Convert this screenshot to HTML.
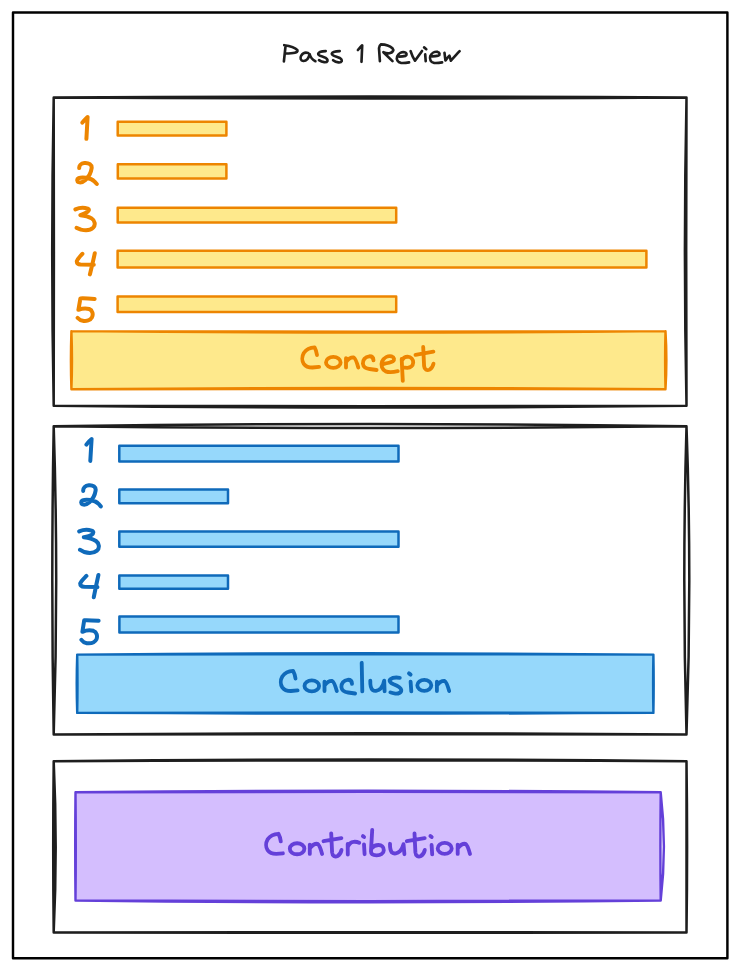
<!DOCTYPE html>
<html>
<head>
<meta charset="utf-8">
<style>
html,body{margin:0;padding:0;background:#fff;width:740px;height:971px;overflow:hidden;}
svg{display:block;}
</style>
</head>
<body>
<svg width="740" height="971" viewBox="0 0 740 971">
<rect x="0" y="0" width="740" height="971" fill="#ffffff"/>
<rect x="13" y="12.5" width="714.4" height="945.8" fill="none" stroke="#000000" stroke-width="2.45" stroke-linejoin="round"/>
<path d="M53.70,97.50 Q370.10,95.50 686.50,97.50 M53.70,97.50 Q370.10,99.50 686.50,97.50 M686.50,97.50 Q683.30,251.60 686.50,405.70 M686.50,97.50 Q685.90,251.60 686.50,405.70 M53.70,405.70 Q370.10,406.90 686.50,405.70 M53.70,405.70 Q370.10,409.30 686.50,405.70 M53.70,97.50 Q50.70,251.60 53.70,405.70 M53.70,97.50 Q54.10,251.60 53.70,405.70" fill="none" stroke="#1e1e1e" stroke-width="2.5" stroke-linecap="round" stroke-linejoin="round"/>
<path d="M53.70,426.20 Q370.10,421.80 686.50,426.20 M53.70,426.20 Q370.10,429.80 686.50,426.20 M686.50,426.20 Q682.10,580.35 686.50,734.50 M686.50,426.20 Q692.10,580.35 686.50,734.50 M53.70,734.50 Q370.10,732.10 686.50,734.50 M53.70,734.50 Q370.10,733.90 686.50,734.50 M53.70,426.20 Q50.90,580.35 53.70,734.50 M53.70,426.20 Q58.70,580.35 53.70,734.50" fill="none" stroke="#1e1e1e" stroke-width="2.5" stroke-linecap="round" stroke-linejoin="round"/>
<path d="M53.70,761.30 Q370.10,757.70 686.50,761.30 M53.70,761.30 Q370.10,759.50 686.50,761.30 M686.50,761.30 Q686.50,846.90 686.50,932.50 M686.50,761.30 Q687.70,846.90 686.50,932.50 M53.70,932.50 Q370.10,931.90 686.50,932.50 M53.70,932.50 Q370.10,933.10 686.50,932.50 M53.70,761.30 Q52.70,846.90 53.70,932.50 M53.70,761.30 Q57.70,846.90 53.70,932.50" fill="none" stroke="#1e1e1e" stroke-width="2.5" stroke-linecap="round" stroke-linejoin="round"/>
<rect x="117.7" y="121.7" width="108.70" height="13.80" fill="#fee98c" stroke="#ed8500" stroke-width="2.5" stroke-linejoin="round"/>
<rect x="117.8" y="164.3" width="108.60" height="14.20" fill="#fee98c" stroke="#ed8500" stroke-width="2.5" stroke-linejoin="round"/>
<rect x="117.7" y="207.7" width="278.50" height="14.90" fill="#fee98c" stroke="#ed8500" stroke-width="2.5" stroke-linejoin="round"/>
<rect x="117.6" y="250.8" width="528.80" height="16.60" fill="#fee98c" stroke="#ed8500" stroke-width="2.5" stroke-linejoin="round"/>
<rect x="117.6" y="296.6" width="278.60" height="15.30" fill="#fee98c" stroke="#ed8500" stroke-width="2.5" stroke-linejoin="round"/>
<path d="M71.4,331.1 L665.5,331.1 L665.5,389.3 L71.4,389.3 Z" fill="#fee98c" stroke="none"/>
<path d="M71.40,331.10 Q368.45,332.10 665.50,331.10 M71.40,331.10 Q368.45,333.90 665.50,331.10 M665.50,331.10 Q664.70,360.20 665.50,389.30 M665.50,331.10 Q667.30,360.20 665.50,389.30 M71.40,389.30 Q368.45,388.70 665.50,389.30 M71.40,389.30 Q368.45,386.70 665.50,389.30 M71.40,331.10 Q70.40,360.20 71.40,389.30 M71.40,331.10 Q72.60,360.20 71.40,389.30" fill="none" stroke="#ed8500" stroke-width="2.4" stroke-linecap="round" stroke-linejoin="round"/>
<rect x="119.3" y="445.8" width="279.20" height="15.60" fill="#96d8fb" stroke="#0f6aba" stroke-width="2.5" stroke-linejoin="round"/>
<rect x="119.3" y="489.6" width="108.70" height="13.70" fill="#96d8fb" stroke="#0f6aba" stroke-width="2.5" stroke-linejoin="round"/>
<rect x="119.3" y="531.4" width="279.20" height="15.30" fill="#96d8fb" stroke="#0f6aba" stroke-width="2.5" stroke-linejoin="round"/>
<rect x="119.3" y="575.6" width="108.70" height="13.20" fill="#96d8fb" stroke="#0f6aba" stroke-width="2.5" stroke-linejoin="round"/>
<rect x="119.4" y="616.5" width="279.10" height="15.90" fill="#96d8fb" stroke="#0f6aba" stroke-width="2.5" stroke-linejoin="round"/>
<path d="M77.2,654.6 L653.4,654.6 L653.4,712.9 L77.2,712.9 Z" fill="#96d8fb" stroke="none"/>
<path d="M77.20,654.60 Q365.30,652.00 653.40,654.60 M77.20,654.60 Q365.30,653.80 653.40,654.60 M653.40,654.60 Q652.80,683.75 653.40,712.90 M653.40,654.60 Q654.00,683.75 653.40,712.90 M77.20,712.90 Q365.30,711.90 653.40,712.90 M77.20,712.90 Q365.30,714.30 653.40,712.90 M77.20,654.60 Q76.20,683.75 77.20,712.90 M77.20,654.60 Q77.80,683.75 77.20,712.90" fill="none" stroke="#0f6aba" stroke-width="2.4" stroke-linecap="round" stroke-linejoin="round"/>
<path d="M75.5,792.3 L660.7,792.3 L660.7,900.5 L75.5,900.5 Z" fill="#d4befe" stroke="none"/>
<path d="M75.50,792.30 Q368.10,789.10 660.70,792.30 M75.50,792.30 Q368.10,791.10 660.70,792.30 M660.70,792.30 Q660.10,846.40 660.70,900.50 M660.70,792.30 Q667.10,846.40 660.70,900.50 M75.50,900.50 Q368.10,901.70 660.70,900.50 M75.50,900.50 Q368.10,904.10 660.70,900.50 M75.50,792.30 Q74.90,846.40 75.50,900.50 M75.50,792.30 Q76.10,846.40 75.50,900.50" fill="none" stroke="#6440d9" stroke-width="2.4" stroke-linecap="round" stroke-linejoin="round"/>
<path d="M285.5,46.4 C285.0,51.5 284.4,56.5 283.9,61.4 M284.2,45.2 C289.0,45.8 294.8,47.2 297.4,50.2 C298.4,52.6 293.6,53.4 285.4,53.5 M308.0,53.0 C305.5,52.2 302.6,53.4 301.2,55.6 C299.8,58 300.6,60.8 303.4,61.0 C306.2,61.1 308.6,58.6 309.6,54.0 M309.6,54.0 C310.6,57.5 312.6,60 315.4,61.2 M325.7,51.1 C322.5,51.2 318.6,51.8 318.2,53.8 C318.0,55.6 321.2,56.2 323.4,56.9 C326.2,57.8 328.0,59.2 327.4,61.1 C326.6,62.8 322.4,62.6 319.0,60.2 M339.7,51.1 C336.5,51.2 332.4,51.6 331.8,53.6 C331.6,55.5 334.8,56.2 337.2,56.9 C340.2,57.8 342.3,59.2 341.7,61.3 C340.9,63.0 336.5,63.0 333.1,60.2 M357.9,50.0 C359.4,48.2 360.8,46.6 362.2,45.3 L361.5,61.8 M379.0,48.3 L379.9,61.2 M379.0,48.3 C379.3,46.5 379.9,45 380.9,44.4 C384.5,44.5 389.8,45.8 392.4,48.2 C394.2,50.2 392.8,52.6 389.4,53.3 C387.0,53.6 385.0,53.0 383.4,52.2 L392.5,61.1 M399.3,56.6 C401.3,56.6 403.6,56.4 405.4,55.9 C407.2,55.2 407.0,53.0 404.6,52.3 C401.8,51.6 398.6,53.2 397.2,56.2 C396.0,59.6 397.8,62.6 401.0,62.9 C403.8,63.1 406.6,62.8 409.1,62.4 M410.6,51.2 C411.6,54.4 413.2,58.2 415.0,60.7 C417.4,57.5 419.8,54.0 422.0,51.0 M424.1,47.4 L426.3,49.2 M425.2,54.4 L425.7,61.2 M432.0,56.3 C434.0,56.3 436.4,56.1 438.3,55.6 C440.2,54.9 440.0,52.6 437.6,51.9 C434.8,51.3 431.6,53.0 430.3,56.0 C429.2,59.4 430.9,62.5 434.1,62.9 C436.9,63.1 439.6,62.8 442.1,62.4 M444.5,52.9 C444.8,55.5 445.1,58.2 445.5,60.5 C446.6,59.0 447.8,57.2 449.4,55.6 C449.9,57.4 450.3,59.0 450.9,60.7 C453.8,57.5 456.8,54.2 459.6,51.2" fill="none" stroke="#1e1e1e" stroke-width="2.65" stroke-linecap="round" stroke-linejoin="round"/>
<path d="M317.0,355.0 C316.6,352.2 315.7,349.4 314.6,347.4 C310.8,347.6 306.2,349.6 303.8,353.0 C301.8,356.4 301.9,361.0 303.8,363.8 C305.8,366.6 309.2,367.5 312.4,367.5 L319.1,366.9 M326.00,362.40 A7.30,5.50 0 1,0 340.60,362.40 A7.30,5.50 0 1,0 326.00,362.40 M346.0,358.2 L346.0,367.5 M346.0,362.0 C347.8,359.6 351.2,357.2 353.6,357.4 C355.6,358.4 357.2,363.6 358.3,367.6 M373.5,360.4 C373.4,357.8 371.8,356.2 369.2,356.3 C365.2,356.6 362.6,360.0 362.9,363.6 C363.3,367.0 366.2,368.6 369.6,369.0 L376.6,370.0 M383.2,364.0 C386.5,363.4 390.5,362.6 392.8,361.4 C394.8,360.0 394.4,357.2 391.6,356.4 C388.0,355.6 384.0,357.6 382.0,361.6 C380.6,365.2 382.0,369.6 385.6,371.4 C389.4,372.8 394.4,372.0 397.8,371.2 M401.7,359.0 C402.0,366 402.4,374 402.8,380.8 M401.9,360.4 C403.0,358.0 405.0,356.6 407.6,356.6 C411.0,356.8 413.4,359.4 413.2,362.6 C413.0,365.6 410.6,367.6 407.4,367.8 C405.4,367.8 403.4,367.4 402.2,367.0 M423.2,347.0 C423.5,353 423.8,360 424.1,366.0 C424.4,369.6 427.0,371.0 429.6,369.6 C431.6,368.4 433.0,366.0 433.5,363.6 M415.5,354.8 L433.4,351.7" fill="none" stroke="#ed8500" stroke-width="3.85" stroke-linecap="round" stroke-linejoin="round"/>
<path d="M 295.50,678.50 C 295.10,675.70 294.20,672.90 293.10,670.90 C 289.30,671.10 284.70,673.10 282.30,676.50 C 280.30,679.90 280.40,684.50 282.30,687.30 C 284.30,690.10 287.70,691.00 290.90,691.00 L 297.60,690.40 M 304.50,685.90 A 7.30,5.50 0 1,0 319.10,685.90 A 7.30,5.50 0 1,0 304.50,685.90 M 324.50,681.70 L 324.50,691.00 M 324.50,685.50 C 326.30,683.10 329.70,680.70 332.10,680.90 C 334.10,681.90 335.70,687.10 336.80,691.10 M 352.00,683.90 C 351.90,681.30 350.30,679.70 347.70,679.80 C 343.70,680.10 341.10,683.50 341.40,687.10 C 341.80,690.50 344.70,692.10 348.10,692.50 L 355.10,693.50 M361.7,662.8 C361.9,672 362.1,682 362.3,691.4 M370.3,680.6 C370.2,684.4 370.8,688.4 372.6,690.0 C374.8,691.6 378.4,690.8 380.8,688.4 C382.8,686.2 383.8,683.0 384.2,680.6 L384.6,691.2 M399.8,677.8 C397.0,677.4 392.4,677.6 390.4,679.2 C388.6,680.8 390.4,682.8 393.6,684.2 C397.2,685.6 400.6,687.0 401.2,689.6 C401.8,692.4 398.6,693.8 395.4,693.6 C393.4,693.4 391.6,693.0 390.4,692.4 M409.0,673.4 L410.6,674.6 M410.6,681.6 L411.3,691.4 M417.30,685.30 A7.00,5.50 0 1,0 431.30,685.30 A7.00,5.50 0 1,0 417.30,685.30 M 436.90,681.70 L 436.90,691.00 M 436.90,685.50 C 438.70,683.10 442.10,680.70 444.50,680.90 C 446.50,681.90 448.10,687.10 449.20,691.10" fill="none" stroke="#0f6aba" stroke-width="3.85" stroke-linecap="round" stroke-linejoin="round"/>
<path d="M 280.80,841.40 C 280.40,838.60 279.50,835.80 278.40,833.80 C 274.60,834.00 270.00,836.00 267.60,839.40 C 265.60,842.80 265.70,847.40 267.60,850.20 C 269.60,853.00 273.00,853.90 276.20,853.90 L 282.90,853.30 M 289.80,848.80 A 7.30,5.50 0 1,0 304.40,848.80 A 7.30,5.50 0 1,0 289.80,848.80 M 309.80,844.60 L 309.80,853.90 M 309.80,848.40 C 311.60,846.00 315.00,843.60 317.40,843.80 C 319.40,844.80 321.00,850.00 322.10,854.00 M 331.20,833.40 C 331.50,839.40 331.80,846.40 332.10,852.40 C 332.40,856.00 335.00,857.40 337.60,856.00 C 339.60,854.80 341.00,852.40 341.50,850.00 M 323.50,841.20 L 341.40,838.10 M347.7,844.0 L347.8,854.6 M347.7,847.2 C349.0,843.8 351.0,842.0 353.6,841.8 C355.8,841.6 357.6,842.0 359.2,842.8 M362.9,836.1 L364.1,837.0 M364.0,844.4 L364.6,854.2 M372.2,830.0 C371.8,838 371.2,846 371.0,851.6 C371.0,854.2 373.4,855.4 376.6,855.4 C380.6,855.2 383.8,853.2 383.8,850.2 C383.8,847.0 381.6,845.0 378.6,845.0 C375.6,845.0 373.0,846.4 371.4,848.6 M390.0,843.8 C389.9,847.4 390.4,850.8 392.0,852.6 C394.0,854.2 397.6,853.6 400.0,851.2 C401.9,849.0 403.0,846.2 403.5,844.2 L404.4,854.2 M 414.50,833.40 C 414.80,839.40 415.10,846.40 415.40,852.40 C 415.70,856.00 418.30,857.40 420.90,856.00 C 422.90,854.80 424.30,852.40 424.80,850.00 M 406.80,841.20 L 424.70,838.10 M430.4,836.0 L431.7,837.0 M431.6,845.0 L432.2,854.4 M437.70,848.40 A7.00,5.50 0 1,0 451.70,848.40 A7.00,5.50 0 1,0 437.70,848.40 M 457.70,844.60 L 457.70,853.90 M 457.70,848.40 C 459.50,846.00 462.90,843.60 465.30,843.80 C 467.30,844.80 468.90,850.00 470.00,854.00" fill="none" stroke="#6440d9" stroke-width="3.85" stroke-linecap="round" stroke-linejoin="round"/>
<path d="M82.4,122.6 C84.2,120.4 86.0,118.6 87.6,117.0 L86.4,138.8 M79.2,168.1 C79.0,165.6 80.8,163.4 84.4,163.0 C88.8,162.6 92.2,164.6 91.6,168.4 C91.0,172.6 88.6,177.0 85.4,180.0 C83.4,181.8 80.6,182.8 78.6,182.2 C76.8,181.4 76.6,179.0 78.6,178.2 C80.6,177.4 83.6,177.4 86.0,177.8 C89.6,178.4 92.6,179.6 94.6,181.6 L96.8,184.0 M75.4,209.4 C78.6,208.0 83.6,207.4 87.8,208.6 C89.6,209.4 89.0,210.6 87.4,211.8 C85.6,213.2 82.4,214.4 80.4,215.2 C84.2,215.6 88.4,216.4 91.6,218.4 C95.0,220.6 95.8,224.8 93.2,227.6 C90.4,230.4 85.0,230.6 81.0,229.6 L76.6,227.8 M82.4,253.8 C80.4,256.0 77.8,258.6 76.8,261.2 C76.6,263.4 78.2,264.4 80.6,264.6 L93.8,264.8 M94.8,253.2 C93.4,260.0 91.6,267.4 89.9,274.4 M94.6,299.0 C90.0,298.6 84.8,298.2 80.4,298.4 L78.4,309.8 C81.6,308.6 85.6,308.0 89.2,309.0 C92.6,310.2 93.4,314.4 92.0,317.2 C90.4,320.2 86.4,321.4 82.8,320.8 C80.6,320.4 78.8,319.0 77.6,317.8" fill="none" stroke="#ed8500" stroke-width="4.0" stroke-linecap="round" stroke-linejoin="round"/>
<path d="M86.4,444.6 C88.0,442.2 89.8,440.4 91.6,439.0 L90.3,461.0 M83.2,490.9 C83.0,488.2 85.2,485.6 88.8,485.2 C93.0,484.8 96.2,486.8 95.6,490.6 C95.0,494.8 92.6,499.2 89.4,502.2 C87.4,504.0 84.6,505.0 82.6,504.4 C80.8,503.6 80.6,501.2 82.6,500.4 C84.6,499.6 87.6,499.6 90.0,500.0 C93.6,500.6 96.6,501.8 98.6,503.8 L100.8,506.4 M79.2,531.4 C82.4,530.0 87.6,529.4 91.6,530.6 C94.0,531.4 93.8,533.2 91.6,534.8 C89.6,536.2 86.0,536.8 83.8,537.2 C87.6,537.6 92.4,538.6 96.0,541.0 C99.4,543.4 99.8,548.0 97.0,550.6 C94.0,553.0 88.4,553.2 84.2,552.0 L80.0,549.8 M86.4,575.9 C84.2,578.2 81.2,580.8 80.2,583.4 C80.2,585.6 81.8,586.6 84.4,586.8 L97.4,587.1 M98.4,575.0 C96.8,582.2 95.2,590.0 93.8,597.2 M98.6,620.8 C94.0,620.4 88.6,620.0 84.2,620.2 L82.4,631.8 C85.6,630.4 89.8,629.8 93.4,630.8 C96.8,632.0 97.8,636.4 96.4,639.4 C94.8,642.4 90.6,643.6 86.8,643.2 C84.4,642.8 82.4,641.2 81.4,639.8" fill="none" stroke="#0f6aba" stroke-width="4.0" stroke-linecap="round" stroke-linejoin="round"/>
</svg>
</body>
</html>
